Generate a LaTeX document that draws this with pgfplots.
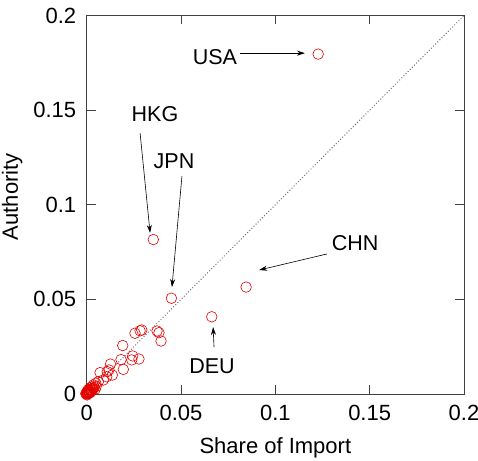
\documentclass[border=0pt]{standalone}
\usepackage{fontspec}
\setmainfont{Liberation Sans}
\usepackage{pgfplots}
\pgfplotsset{compat=1.18}
\usetikzlibrary{arrows.meta}
\pgfplotstableread{
x y
0.1227 0.1796
0.0353 0.0816
0.0449 0.0506
0.0663 0.0408
0.0845 0.0565
0.0292 0.0338
0.0383 0.0324
0.0373 0.0333
0.0394 0.0280
0.0256 0.0321
0.0283 0.0334
0.0191 0.0256
0.0244 0.0201
0.0277 0.0185
0.0239 0.0180
0.0182 0.0182
0.0126 0.0158
0.0194 0.0130
0.0118 0.0127
0.0136 0.0100
0.0109 0.0118
0.0071 0.0113
0.0106 0.0091
0.0088 0.0074
0.0062 0.0065
0.0048 0.0057
0.0035 0.0048
0.0030 0.0021
0.0017 0.0032
0.0002 0.0001
0.0005 0.0003
0.0008 0.0006
0.0010 0.0012
0.0015 0.0009
0.0020 0.0015
0.0025 0.0020
0.0012 0.0018
0.0003 0.0008
0.0006 0.0015
0.0018 0.0025
0.0022 0.0010
0.0030 0.0028
0.0035 0.0030
0.0001 0.0004
0.0004 0.0002
0.0009 0.0003
0.0014 0.0005
0.0007 0.0022
0.0028 0.0038
0.0040 0.0035
0.0050 0.0040
0.0045 0.0025
0.0000 0.0000
0.0001 0.0010
-0.0005 0.0002
0.0002 -0.0005
}\pts
\begin{document}
\begin{tikzpicture}[font=\fontsize{21.5bp}{25bp}\selectfont]
\begin{axis}[
  name=ax,
  scale only axis,
  width=377.3bp, height=378.5bp,
  xmin=0, xmax=0.2, ymin=0, ymax=0.2,
  xtick={0,0.05,0.1,0.15,0.2},
  ytick={0,0.05,0.1,0.15,0.2},
  xticklabels={0,0.05,0.1,0.15,0.2},
  yticklabels={0,0.05,0.1,0.15,0.2},
  /pgf/number format/assume math mode=true,
  tick align=inside,
  major tick length=9bp,
  axis line style={black!75, line width=0.7bp},
  tick style={black!75, line width=0.7bp},
  xlabel={Share of Import},
  ylabel={Authority},
  tick label style={font=\fontsize{22bp}{26bp}\selectfont},
  xticklabel style={yshift=-8bp},
  yticklabel style={xshift=-7bp},
  label style={font=\fontsize{22bp}{26bp}\selectfont},
  xlabel style={yshift=-10bp},
  ylabel style={yshift=4bp, xshift=8bp},
  clip=false,
]
\addplot[gray!90!black, dotted, line width=1bp] coordinates {(0,0) (0.2,0.2)};
\addplot[only marks, mark=o, mark size=5.3bp, red!90!black, mark options={line width=0.6bp}] table[x=x,y=y] {\pts};
\node at (axis cs:0.0680,0.1780) {USA};
\draw[-{Stealth[length=8bp,width=5bp]}, line width=0.6bp] (axis cs:0.0813,0.1801) -- (axis cs:0.1157,0.1801);
\node at (axis cs:0.0362,0.1479) {HKG};
\draw[-{Stealth[length=8bp,width=5bp]}, line width=0.6bp] (axis cs:0.0283,0.1379) -- (axis cs:0.0336,0.0851);
\node at (axis cs:0.0463,0.1231) {JPN};
\draw[-{Stealth[length=8bp,width=5bp]}, line width=0.6bp] (axis cs:0.0505,0.1152) -- (axis cs:0.0452,0.0565);
\node at (axis cs:0.1423,0.0798) {CHN};
\draw[-{Stealth[length=8bp,width=5bp]}, line width=0.6bp] (axis cs:0.1274,0.0740) -- (axis cs:0.0914,0.0655);
\node at (axis cs:0.0664,0.0148) {DEU};
\draw[-{Stealth[length=8bp,width=5bp]}, line width=0.6bp] (axis cs:0.0675,0.0248) -- (axis cs:0.0670,0.0354);
\end{axis}
\pgfresetboundingbox
\useasboundingbox ([xshift=-86.7bp,yshift=-67bp]ax.south west) rectangle ([xshift=14bp,yshift=15.5bp]ax.north east);
\end{tikzpicture}
\end{document}
